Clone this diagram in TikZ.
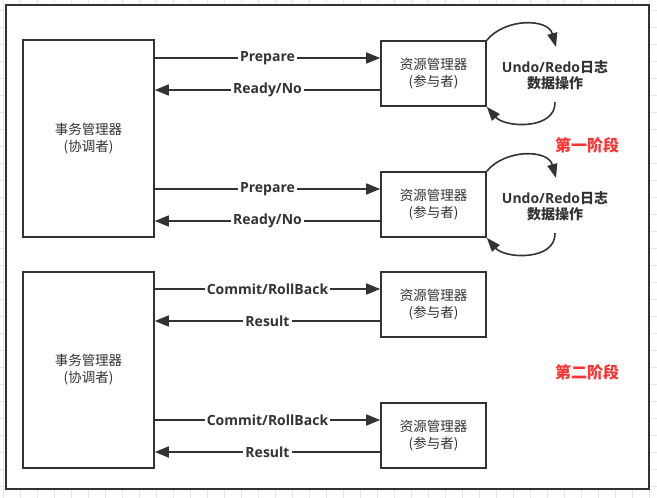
\documentclass[tikz,border=0pt]{standalone}
\usepackage{fontspec}
\setmainfont{Open Sans}
\newfontfamily\cjk{Noto Sans CJK SC}
\usetikzlibrary{arrows.meta}
\definecolor{ink}{HTML}{333333}
\definecolor{phase}{HTML}{FF3333}
\definecolor{gridc}{HTML}{E6E6E6}

\begin{document}
\begin{tikzpicture}[x=1pt, y=-1pt,
    box/.style={draw=ink, line width=1.6pt, text=ink, align=center,
      font=\cjk\fontsize{13.5}{17}\selectfont},
    tmbox/.style={box, minimum width=131pt, minimum height=197pt},
    pbox/.style={box, minimum width=105pt, minimum height=65pt},
    msg/.style={draw=ink, line width=1.6pt, -{Triangle[length=14pt,width=11pt]}},
    cyc/.style={draw=ink, line width=1.6pt, -{Triangle[length=14pt,width=10pt]}},
    lbl/.style={fill=white, inner sep=2pt, text=ink, font=\bfseries\fontsize{14}{17}\selectfont},
    logtxt/.style={align=center, text=ink, font=\bfseries\fontsize{14}{16}\selectfont},
    stage/.style={text=phase, font=\cjk\bfseries\fontsize{16}{19}\selectfont}]
  \useasboundingbox (0,0) rectangle (657,498);
  \foreach \x in {3,20,...,656} \draw[gridc, line width=0.6pt] (\x,0) -- (\x,498);
  \foreach \y in {10,27,...,497} \draw[gridc, line width=0.6pt] (0,\y) -- (657,\y);
  \draw[ink, line width=1.8pt, fill=white] (6,5) rectangle (649,489);

  \node[tmbox] (tm1) at (88.5,138.5) {事务管理器\\(协调者)};
  \node[tmbox, minimum height=196pt] (tm2) at (88.5,370) {事务管理器\\(协调者)};
  \foreach \i/\y in {1/73.5, 2/204.5, 3/304.5, 4/435.5} {
    \node[pbox] (p\i) at (433.5,\y) {资源管理器\\(参与者)};
    \coordinate (in\i) at ([yshift=15.5pt]p\i.west);
    \coordinate (back\i) at ([yshift=-16.5pt]p\i.west);
  }

  \foreach \i in {1,2} {
    \draw[msg] (tm1.east |- in\i) -- node[lbl] {Prepare} (in\i);
    \draw[msg] (back\i) -- node[lbl] {Ready/No} (tm1.east |- back\i);
  }
  \foreach \i in {3,4} {
    \draw[msg] (tm2.east |- in\i) -- node[lbl] {Commit/RollBack} (in\i);
    \draw[msg] (back\i) -- node[lbl] {Result} (tm2.east |- back\i);
  }

  \foreach \i/\t in {1/40, 2/171} {
    \node[logtxt] (log\i) at (555,\t+35) {Undo/Redo{\cjk 日志}\\{\cjk 数据操作}};
    \coordinate (top\i) at (556,\t+7);
    \coordinate (bot\i) at (555,\t+62);
    \draw[cyc] (p\i.north east) .. controls (505,\t-22) and (548,\t-22) .. (top\i);
    \draw[cyc] (bot\i) .. controls (556,\t+90) and (505,\t+88) .. (p\i.south east);
  }

  \node[stage] (ph1) at (587,145) {第一阶段};
  \node[stage] (ph2) at (587,372) {第二阶段};
\end{tikzpicture}
\end{document}
